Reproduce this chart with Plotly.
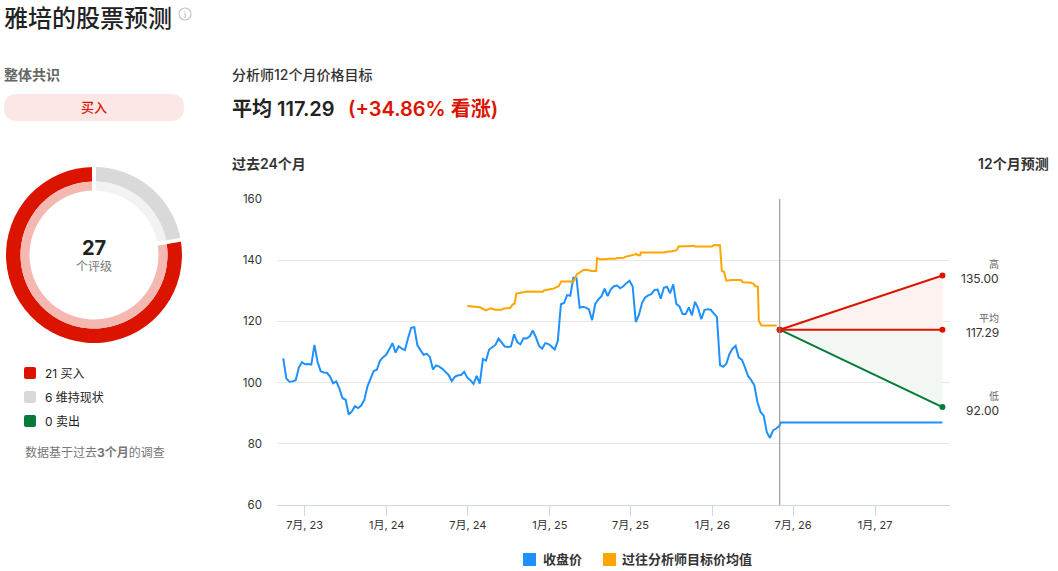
import math
import pandas as pd
import plotly.graph_objects as go

W, H = 1058, 571

close_values = [
    107.9,101.3,100.3,100.4,100.8,104.9,106.7,106.0,106.1,105.9,112.3,106.8,103.7,103.3,103.2,102.0,99.8,100.4,98.0,94.9,
    94.4,89.6,90.6,92.3,91.7,92.5,94.4,98.8,101.3,103.8,104.2,107.1,108.3,109.1,110.9,112.9,109.8,111.9,111.1,110.6,
    114.5,117.9,118.1,112.2,110.6,109.1,109.4,108.4,104.3,105.6,105.2,104.5,103.5,102.5,100.5,101.9,102.4,102.5,103.5,101.6,
    100.8,99.6,102.2,99.7,107.7,107.2,110.8,
    111.5,112.3,114.4,113.2,111.8,111.6,111.8,115.8,113.2,112.5,114.5,114.4,115.1,117.0,114.8,112.0,111.1,112.9,112.6,111.8,
    110.8,113.6,125.6,126.0,128.6,128.4,134.3,134.1,124.5,124.8,124.5,123.9,120.4,125.7,127.2,128.2,130.7,128.3,130.5,131.5,
    131.7,130.8,131.5,132.5,133.3,131.4,119.8,122.1,126.0,127.8,128.5,128.9,130.3,130.4,127.4,131.0,131.3,129.2,132.1,125.7,
    124.9,122.4,122.4,124.6,122.0,126.4,124.3,120.7,123.7,124.0,123.8,122.6,121.5,105.7,105.2,106.1,109.3,111.1,112.0,108.2,
    107.5,105.0,102.1,100.8,99.1,93.6,90.4,89.2,83.8,81.9,84.4,85.0,85.8,
]
close_dates = list(pd.date_range("2023-05-14", periods=len(close_values), freq="7D").strftime("%Y-%m-%d"))
close_dates += ["2026-06-03", "2027-06-01"]
close_values += [87.0, 87.0]

target_dates = [
    "2024-06-30","2024-07-14","2024-07-29","2024-08-10","2024-08-22","2024-08-31","2024-09-15","2024-09-20","2024-10-04",
    "2024-10-10","2024-10-14","2024-10-18","2024-10-27","2024-11-03","2024-11-11","2024-12-16","2024-12-19","2025-01-02",
    "2025-01-09","2025-01-21","2025-01-27","2025-02-23","2025-03-03","2025-03-18","2025-03-25","2025-04-05","2025-04-15",
    "2025-04-17","2025-04-24","2025-05-09","2025-05-13","2025-05-28","2025-06-01","2025-06-16","2025-06-19","2025-07-12",
    "2025-07-14","2025-07-17","2025-07-23","2025-07-24","2025-09-15","2025-09-21","2025-10-02","2025-10-13","2025-10-17",
    "2025-11-16","2025-11-19","2025-11-23","2025-12-31","2026-01-05","2026-01-18","2026-01-22","2026-01-27","2026-02-01",
    "2026-02-13","2026-03-06","2026-03-10","2026-03-27","2026-04-03","2026-04-07","2026-04-13","2026-04-15","2026-04-21",
    "2026-05-25",
]
target_values = [
    125.0,124.8,124.6,123.6,124.3,123.8,123.8,124.2,124.4,125.6,125.8,129.1,129.3,129.5,129.8,129.7,130.1,130.5,130.7,131.5,
    133.0,133.0,135.4,136.8,136.9,136.5,136.5,140.7,140.3,140.3,140.5,140.5,140.7,140.8,141.1,141.9,142.1,141.6,141.6,142.5,
    142.5,142.8,142.9,143.3,144.5,144.6,144.8,144.5,144.5,145.0,144.9,136.5,136.2,133.3,133.5,133.5,132.8,132.7,132.3,131.5,
    131.4,120.2,118.7,118.7,
]

forecast_start = "2026-06-01"
forecast_end = "2027-06-01"
forecast_from = 117.29
forecast_high = 135.00
forecast_mean = 117.29
forecast_low = 92.00

tick_vals = ["2023-07-01","2024-01-01","2024-07-01","2025-01-01","2025-07-01","2026-01-01","2026-07-01","2027-01-01"]
tick_text = ["7月, 23","1月, 24","7月, 24","1月, 25","7月, 25","1月, 26","7月, 26","1月, 27"]

rating_labels = ["维持现状", "买入", "卖出"]
rating_counts = [6, 21, 0]

RED = "#db1400"; GREEN = "#067a38"; BLUE = "#1e90ff"; ORANGE = "#ffa500"; GRAY = "#d9d9d9"
FONT = "Inter, 'Noto Sans CJK SC', sans-serif"
CJK = "'Noto Sans CJK SC', Inter, sans-serif"

def fx(x): return x / W
def fy(y): return 1 - y / H

fig = go.Figure()

fs = [forecast_start, forecast_end]
fig.add_trace(go.Scatter(x=fs, y=[forecast_from, forecast_mean], mode="lines", line=dict(width=0), hoverinfo="skip"))
fig.add_trace(go.Scatter(x=fs, y=[forecast_from, forecast_high], mode="lines", line=dict(width=0), fill="tonexty", fillcolor="#fef2f1", hoverinfo="skip"))
fig.add_trace(go.Scatter(x=fs, y=[forecast_from, forecast_mean], mode="lines", line=dict(width=0), hoverinfo="skip"))
fig.add_trace(go.Scatter(x=fs, y=[forecast_from, forecast_low], mode="lines", line=dict(width=0), fill="tonexty", fillcolor="#f2f7f3", hoverinfo="skip"))

fig.add_trace(go.Scatter(x=close_dates, y=close_values, mode="lines", name="收盘价", line=dict(color=BLUE, width=2)))
fig.add_trace(go.Scatter(x=target_dates, y=target_values, mode="lines", name="过往分析师目标价均值", line=dict(color=ORANGE, width=2)))

for val, col in [(forecast_low, GREEN), (forecast_high, RED), (forecast_mean, RED)]:
    fig.add_trace(go.Scatter(x=fs, y=[forecast_from, val], mode="lines+markers",
                             line=dict(color=col, width=2),
                             marker=dict(color=[RED, col], size=6)))

cx, cy, R, r1, r2 = 94, 255, 88, 73.5, 64.5
outer_dom = dict(x=[fx(cx - R), fx(cx + R)], y=[fy(cy + R), fy(cy - R)])
inner_dom = dict(x=[fx(cx - r1), fx(cx + r1)], y=[fy(cy + r1), fy(cy - r1)])
common = dict(labels=rating_labels, values=rating_counts, sort=False, direction="clockwise", rotation=0,
              textinfo="none", hoverinfo="label+value", showlegend=False)
fig.add_trace(go.Pie(domain=outer_dom, hole=r1 / R, marker=dict(colors=[GRAY, RED, GREEN], line=dict(width=0)), **common))
fig.add_trace(go.Pie(domain=inner_dom, hole=r2 / r1, marker=dict(colors=["#f2f2f2", "#f4b8b1", "#b4d7c3"], line=dict(width=0)), **common))

shapes = []
def line_px(x0, y0, x1, y1, color, width):
    shapes.append(dict(type="line", xref="paper", yref="paper", x0=fx(x0), x1=fx(x1), y0=fy(y0), y1=fy(y1),
                       line=dict(color=color, width=width)))
def rrect(x0, y0, x1, y1, r, color):
    X0, X1 = fx(x0), fx(x1); Y0, Y1 = fy(y0), fy(y1)
    rx, ry = r / W, r / H
    p = (f"M{X0+rx},{Y0} L{X1-rx},{Y0} Q{X1},{Y0} {X1},{Y0-ry} L{X1},{Y1+ry} Q{X1},{Y1} {X1-rx},{Y1} "
         f"L{X0+rx},{Y1} Q{X0},{Y1} {X0},{Y1+ry} L{X0},{Y0-ry} Q{X0},{Y0} {X0+rx},{Y0} Z")
    shapes.append(dict(type="path", xref="paper", yref="paper", path=p, fillcolor=color, line=dict(width=0)))

total = sum(rating_counts)
for frac in [0, rating_counts[0] / total]:
    a = 2 * math.pi * frac
    line_px(cx + (r2 - 2) * math.sin(a), cy - (r2 - 2) * math.cos(a),
            cx + (R + 2) * math.sin(a), cy - (R + 2) * math.cos(a), "white", 4)

rrect(4, 94, 184, 121, 13.5, "#fce6e6")
for yy, col in [(373, RED), (397, GRAY), (421, GREEN)]:
    rrect(24, yy - 6, 36, yy + 6, 2, col)
rrect(523, 553, 536, 566, 0, BLUE)
rrect(603, 553, 616, 566, 0, ORANGE)

shapes.append(dict(type="circle", xref="paper", yref="paper", x0=fx(179), x1=fx(191), y0=fy(20), y1=fy(8),
                   line=dict(color="#c4c4c4", width=1.2)))
shapes.append(dict(type="line", xref="x", yref="paper", x0=forecast_start, x1=forecast_start,
                   y0=fy(505), y1=fy(199), line=dict(color="#8a8a8a", width=1)))

ann = []
def text(x, y, s, size=12, color="#222", anchor="left", weight=None, family=FONT):
    f = dict(size=size, color=color, family=family)
    if weight: f["weight"] = weight
    ann.append(dict(xref="paper", yref="paper", x=fx(x), y=fy(y), text=s, showarrow=False, xanchor=anchor,
                    yanchor="middle", font=f, borderpad=0, borderwidth=0))

text(4, 16, "雅培的股票预测", 24, "#222", family=CJK, weight=500)
text(185, 14, "i", 9, "#aaa", "center")
text(4, 74, "整体共识", 14, "#666", weight=600)
text(94, 107, "买入", 13, RED, "center", weight=500)
text(232, 74, "分析师12个月价格目标", 14, "#333", weight=500)
text(232, 109, "平均 117.29", 20, "#222", weight=600)
text(348, 109, "(+34.86% 看涨)", 20, RED, weight=600)
text(232, 164, "过去24个月", 14, "#333", weight=600)
text(1049, 164, "12个月预测", 14, "#333", "right", weight=600)
text(94, 248, "27", 20, "#222", "center", weight=700)
text(94, 266, "个评级", 12, "#777", "center")
text(45, 373, "21 买入", 12, "#222")
text(45, 397, "6 维持现状", 12, "#222")
text(45, 421, "0 卖出", 12, "#222")
text(25, 452, "数据基于过去<b>3个月</b>的调查", 12, "#777")
text(999, 264, "高", 10, "#666", "right")
text(999, 278.5, "135.00", 12, "#333", "right")
text(999, 318, "平均", 10, "#666", "right")
text(999, 332.5, "117.29", 12, "#333", "right")
text(999, 396, "低", 10, "#666", "right")
text(999, 410.5, "92.00", 12, "#333", "right")
text(543, 559, "收盘价", 13, "#333", weight=600)
text(622, 559, "过往分析师目标价均值", 13, "#333", weight=600)

fig.update_layout(
    width=W, height=H, autosize=False,
    margin=dict(l=0, r=0, t=0, b=0, autoexpand=False),
    paper_bgcolor="white", plot_bgcolor="white",
    showlegend=False, font=dict(family=FONT),
    shapes=shapes, annotations=ann,
    xaxis=dict(domain=[fx(277), fx(950)], type="date", range=["2023-04-30", "2027-06-18"], automargin=False,
               tickmode="array", tickvals=tick_vals, ticktext=tick_text, ticks="outside", ticklen=10,
               tickcolor="#ccd6eb", tickwidth=1, showline=True, linecolor="#ccd6eb", linewidth=1,
               showgrid=False, zeroline=False, tickfont=dict(size=11, color="#333", family=FONT)),
    yaxis=dict(domain=[fy(505), fy(199)], range=[60, 160], tickvals=[60, 80, 100, 120, 140, 160], automargin=False,
               gridcolor="#e6e6e6", gridwidth=1, zeroline=False, showline=False, ticks="",
               ticklabelstandoff=14, tickfont=dict(size=11.5, color="#333", family=FONT)),
)

fig.write_html("out.html", config={"displayModeBar": False},
               post_script="document.body.style.margin='0';document.documentElement.style.overflow='hidden';")
